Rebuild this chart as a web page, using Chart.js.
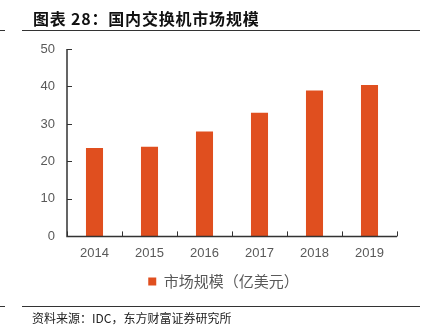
<!DOCTYPE html>
<html><head><meta charset="utf-8">
<script src="https://cdn.jsdelivr.net/npm/chart.js@4/dist/chart.umd.min.js"></script>
<style>
html,body{margin:0;padding:0;background:#fff;width:426px;height:335px;overflow:hidden;position:relative;font-family:"Noto Sans CJK SC",sans-serif;}
#title{position:absolute;left:33px;top:6px;font-size:16px;font-weight:bold;color:#111;white-space:nowrap;letter-spacing:0.8px;}
.hl{position:absolute;height:1px;background:#333;}
#src{position:absolute;left:32px;top:309px;font-size:12px;color:#222;white-space:nowrap;letter-spacing:0px;}
#wrap{position:absolute;left:0;top:0;width:426px;height:335px;}
</style></head>
<body>
<div id="wrap"><canvas id="c" width="426" height="335"></canvas></div>
<div id="title">图表 28：国内交换机市场规模</div>
<div class="hl" style="left:22px;top:30px;width:398px;"></div>
<div class="hl" style="left:0px;top:30px;width:5px;"></div>
<div class="hl" style="left:22px;top:306px;width:398px;"></div>
<div class="hl" style="left:0px;top:306px;width:5px;"></div>
<div id="src">资料来源：IDC，东方财富证券研究所</div>
<script>
const categories = ["2014","2015","2016","2017","2018","2019"];
const marketSize = [23.6, 23.9, 28.0, 33.0, 38.9, 40.4];
const seriesName = "市场规模（亿美元）";
const yTicks = [0,10,20,30,40,50];

const axisPlugin = {
  id:'axisPlugin',
  afterLayout(chart){
    if (chart.legend) { chart.legend.left += 25; chart.legend.right += 25; }
  },
  afterDatasetsDraw(chart){
    const ctx = chart.ctx, a = chart.chartArea, x = chart.scales.x, y = chart.scales.y;
    ctx.save();
    ctx.strokeStyle = '#333'; ctx.lineWidth = 1.5;
    ctx.beginPath();
    ctx.moveTo(a.left, a.top); ctx.lineTo(a.left, a.bottom); ctx.lineTo(a.right, a.bottom);
    ctx.stroke();
    ctx.lineWidth = 1;
    ctx.beginPath();
    yTicks.forEach(v=>{ const py = Math.round(y.getPixelForValue(v))+0.5; ctx.moveTo(a.left, py); ctx.lineTo(a.left+5, py); });
    for(let i=0;i<=categories.length;i++){
      const px = Math.round(a.left + (a.right-a.left)*i/categories.length)+0.5;
      ctx.moveTo(px, a.bottom); ctx.lineTo(px, a.bottom-5);
    }
    ctx.stroke();
    ctx.restore();
  }
};

new Chart(document.getElementById('c'), {
  type:'bar',
  data:{ labels: categories, datasets:[{ label: seriesName, data: marketSize, backgroundColor:'#E04F1F', borderWidth:0, categoryPercentage:0.31, barPercentage:1 }]},
  options:{
    responsive:false, animation:false,
    layout:{ padding:{ top:49, right:29, bottom:36, left:0 } },
    plugins:{
      legend:{ position:'bottom', labels:{ boxWidth:8, boxHeight:8, color:'#595959', font:{ family:'"Noto Sans CJK SC"', size:15 }, padding:4 } },
      tooltip:{ enabled:false }
    },
    scales:{
      x:{ grid:{ display:false, drawTicks:false }, border:{ display:false }, ticks:{ color:'#595959', font:{ family:'"Liberation Sans", Arial', size:13 }, padding:9 } },
      y:{ min:0, max:50, afterFit(s){ s.width = 67; }, afterBuildTicks(s){ s.ticks = yTicks.map(v=>({value:v})); },
          grid:{ display:false, drawTicks:false }, border:{ display:false },
          ticks:{ color:'#595959', font:{ family:'"Liberation Sans", Arial', size:13 }, padding:12 } }
    }
  },
  plugins:[axisPlugin]
});
</script>
</body></html>
